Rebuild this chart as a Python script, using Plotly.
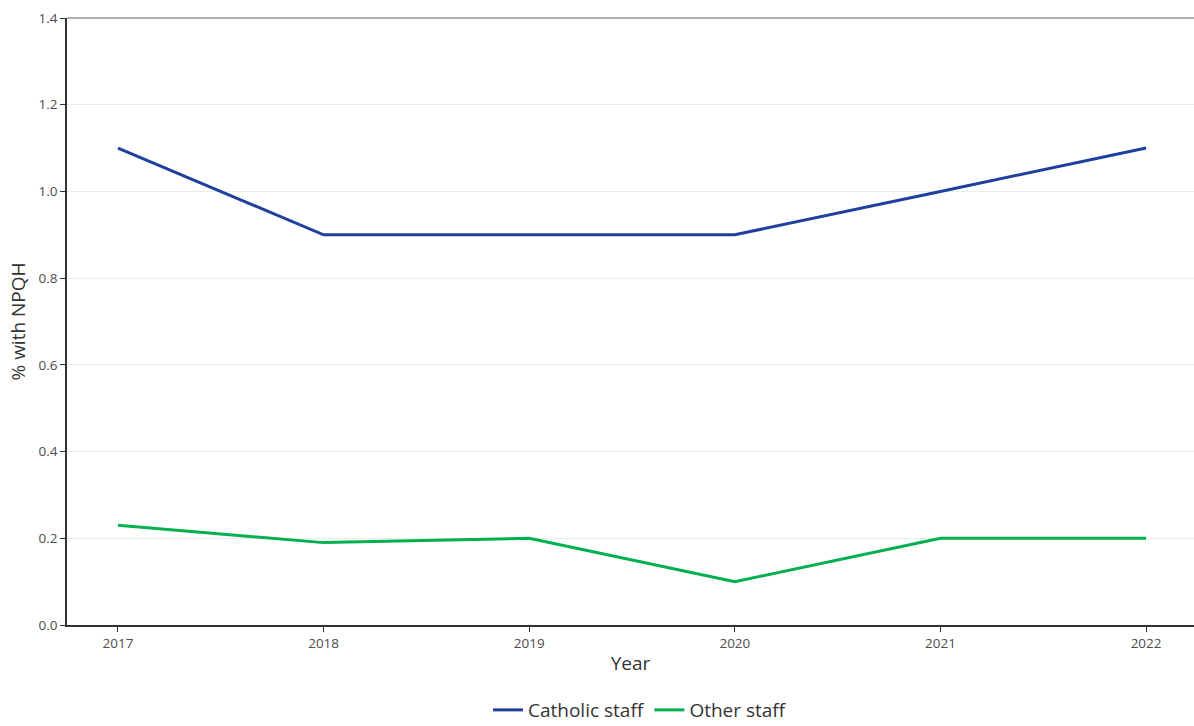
import plotly.graph_objects as go

years = [2017, 2018, 2019, 2020, 2021, 2022]
catholic = [1.1, 0.9, 0.9, 0.9, 1.0, 1.1]
other = [0.23, 0.19, 0.20, 0.10, 0.20, 0.20]
y_ticks = [0.0, 0.2, 0.4, 0.6, 0.8, 1.0, 1.2, 1.4]

FONT = "Open Sans, Liberation Sans, sans-serif"

fig = go.Figure()
fig.add_trace(go.Scatter(x=years, y=catholic, mode="lines", name="Catholic staff",
                         line=dict(color="#1f3f9c", width=3)))
fig.add_trace(go.Scatter(x=years, y=other, mode="lines", name="Other staff",
                         line=dict(color="#00b050", width=3)))

fig.update_layout(
    width=1194, height=726,
    margin=dict(l=67, r=0, t=18, b=101),
    paper_bgcolor="white", plot_bgcolor="white",
    font=dict(family=FONT, color="#333333"),
    legend=dict(orientation="h", x=0.536, xanchor="center", xref="container",
                y=0.022, yanchor="middle", yref="container",
                font=dict(size=19, color="#333333")),
    showlegend=True,
)
fig.update_xaxes(
    range=[2016.752, 2022.233], tickvals=years, ticktext=[str(y) for y in years],
    showgrid=False, zeroline=False, showline=True, linecolor="#333333", linewidth=1.5,
    ticks="outside", ticklen=5, tickcolor="#333333",
    tickfont=dict(size=13.5, color="#4d4d4d"),
    title=dict(text="Year", font=dict(size=19, color="#333333"), standoff=6),
)
fig.update_yaxes(
    range=[0, 1.4], tickvals=y_ticks, ticktext=[f"{v:.1f}" for v in y_ticks],
    showgrid=True, gridcolor="#ebebeb", gridwidth=1, zeroline=False,
    showline=True, linecolor="#333333", linewidth=1.5,
    ticks="outside", ticklen=5, tickcolor="#333333",
    tickfont=dict(size=13.5, color="#4d4d4d"),
    title=dict(text="% with NPQH", font=dict(size=19, color="#333333"), standoff=8),
)
fig.add_shape(type="line", xref="x domain", yref="y domain", x0=0, x1=1, y0=1, y1=1,
              line=dict(color="#999999", width=1.5))

fig.write_html("out.html", config={"displayModeBar": False},
               post_script="document.body.style.margin='0';document.body.style.overflow='hidden';")
